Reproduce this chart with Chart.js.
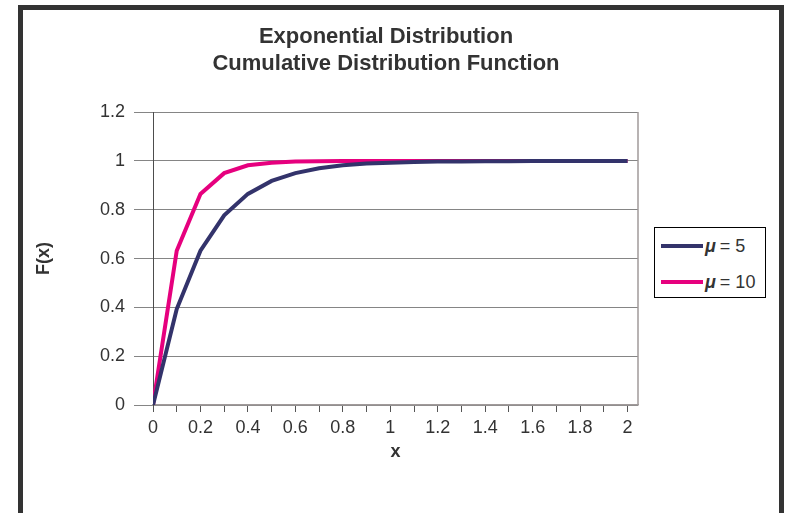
<!DOCTYPE html>
<html>
<head>
<meta charset="utf-8">
<script src="https://cdn.jsdelivr.net/npm/chart.js@4.4.1/dist/chart.umd.min.js"></script>
<style>
    body { margin: 0; background: #fff; font-family: "Liberation Sans", Arial, sans-serif; }
    #wrap { position: relative; width: 787px; height: 513px; overflow: hidden; }
    #frame { position: absolute; left: 18px; top: 5px; width: 756px; height: 530px; border: 5px solid #333; }
    #cdfChart { position: absolute; left: 0; top: 0; }
    #legend { position: absolute; left: 654px; top: 227px; width: 110px; height: 69px; border: 1px solid #000; background: #fff; }
    .leg-row { position: absolute; left: 6px; height: 20px; display: flex; align-items: center; font-size: 18px; color: #333; }
    .leg-line { display: inline-block; width: 42px; height: 4px; margin-right: 2px; }
    .leg-mu { font-weight: bold; font-style: italic; margin-right: 4px; }
</style>
</head>
<body>
<div id="wrap">
    <div id="frame"></div>
    <canvas id="cdfChart" width="787" height="513"></canvas>
    <div id="legend"></div>
</div>

<script>
// -------------------------------
// DATA
// -------------------------------
const xValues = [0, 0.1, 0.2, 0.3, 0.4, 0.5, 0.6, 0.7, 0.8, 0.9, 1, 1.1, 1.2, 1.3, 1.4, 1.5, 1.6, 1.7, 1.8, 1.9, 2];
const xTickLabels = ["0", "0.2", "0.4", "0.6", "0.8", "1", "1.2", "1.4", "1.6", "1.8", "2"];
const mu5Values = [0, 0.393, 0.632, 0.777, 0.865, 0.918, 0.950, 0.970, 0.982, 0.989, 0.993, 0.996, 0.998, 0.998, 0.999, 0.999, 1, 1, 1, 1, 1];
const mu10Values = [0, 0.632, 0.865, 0.950, 0.982, 0.993, 0.998, 0.999, 1, 1, 1, 1, 1, 1, 1, 1, 1, 1, 1, 1, 1];
const seriesNames = ["5", "10"];
const seriesColors = ["#33336b", "#e6007e"];

const FONT = "'Liberation Sans', Arial, sans-serif";

// legend needs its own space on the right of the plot
const legendSpace = {
    id: "legendSpace",
    beforeInit(chart) {
        Chart.layouts.addBox(chart, {
            position: "right",
            weight: 0,
            fullSize: false,
            options: {},
            isHorizontal() { return false; },
            update(maxW, maxH) { this.width = 134; this.height = maxH; },
            draw() {}
        });
    }
};

// right border of the plot area
const plotBorder = {
    id: "plotBorder",
    afterDraw(chart) {
        const a = chart.chartArea;
        const c = chart.ctx;
        c.save();
        c.strokeStyle = "#a09a9a";
        c.lineWidth = 1.5;
        c.beginPath();
        c.moveTo(a.right, a.top);
        c.lineTo(a.right, a.bottom);
        c.stroke();
        c.restore();
    }
};

const ctx = document.getElementById("cdfChart").getContext("2d");

new Chart(ctx, {
    type: "line",
    data: {
        datasets: [
            {
                label: "\u03bc = " + seriesNames[0],
                data: xValues.map((x, i) => ({ x: x, y: mu5Values[i] })),
                borderColor: seriesColors[0],
                borderWidth: 4,
                pointRadius: 0,
                tension: 0
            },
            {
                label: "\u03bc = " + seriesNames[1],
                data: xValues.map((x, i) => ({ x: x, y: mu10Values[i] })),
                borderColor: seriesColors[1],
                borderWidth: 4,
                pointRadius: 0,
                tension: 0
            }
        ]
    },
    options: {
        responsive: false,
        animation: false,
        devicePixelRatio: 1,
        layout: { padding: { left: 0, right: 15, top: 0, bottom: 0 } },
        scales: {
            x: {
                type: "linear",
                min: 0,
                max: 2.044,
                afterFit(s) { s.height = 108; },
                afterBuildTicks(s) { s.ticks = xValues.map(v => ({ value: v })); },
                grid: { drawOnChartArea: false, tickLength: 7, color: "#555" },
                border: { color: "#a09a9a", width: 1.5 },
                ticks: {
                    autoSkip: false,
                    maxRotation: 0,
                    padding: 5,
                    color: "#333",
                    font: { family: FONT, size: 18 },
                    callback: (v, i) => (i % 2 === 0 ? xTickLabels[i / 2] : "")
                },
                title: {
                    display: true,
                    text: "x",
                    color: "#333",
                    font: { family: FONT, size: 18, weight: "bold" },
                    padding: { top: 0, bottom: 50 }
                }
            },
            y: {
                min: 0,
                max: 1.2,
                afterFit(s) { s.width = 153; },
                grid: { color: "#858585", tickLength: 19 },
                border: { color: "#4d4d4d", width: 1 },
                ticks: {
                    stepSize: 0.2,
                    padding: 9,
                    color: "#333",
                    font: { family: FONT, size: 18 },
                    callback: v => String(Number(v.toFixed(1)))
                },
                title: {
                    display: true,
                    text: "F(x)",
                    color: "#333",
                    font: { family: FONT, size: 18, weight: "bold" },
                    padding: { top: 33, bottom: 0 }
                }
            }
        },
        plugins: {
            legend: { display: false },
            tooltip: { enabled: false },
            title: {
                display: true,
                text: ["Exponential Distribution", "Cumulative Distribution Function"],
                color: "#333",
                font: { family: FONT, size: 22, weight: "bold", lineHeight: 1.23 },
                padding: { top: 23, bottom: 35 }
            }
        }
    },
    plugins: [legendSpace, plotBorder]
});

// -------------------------------
// LEGEND (μ in bold italic)
// -------------------------------
const legendEl = document.getElementById("legend");
seriesNames.forEach((name, i) => {
    const row = document.createElement("div");
    row.className = "leg-row";
    row.style.top = (8 + i * 36) + "px";
    row.innerHTML = `<span class="leg-line" style="background:${seriesColors[i]}"></span><span class="leg-mu">\u03bc</span>= ${name}`;
    legendEl.appendChild(row);
});
</script>
</body>
</html>
